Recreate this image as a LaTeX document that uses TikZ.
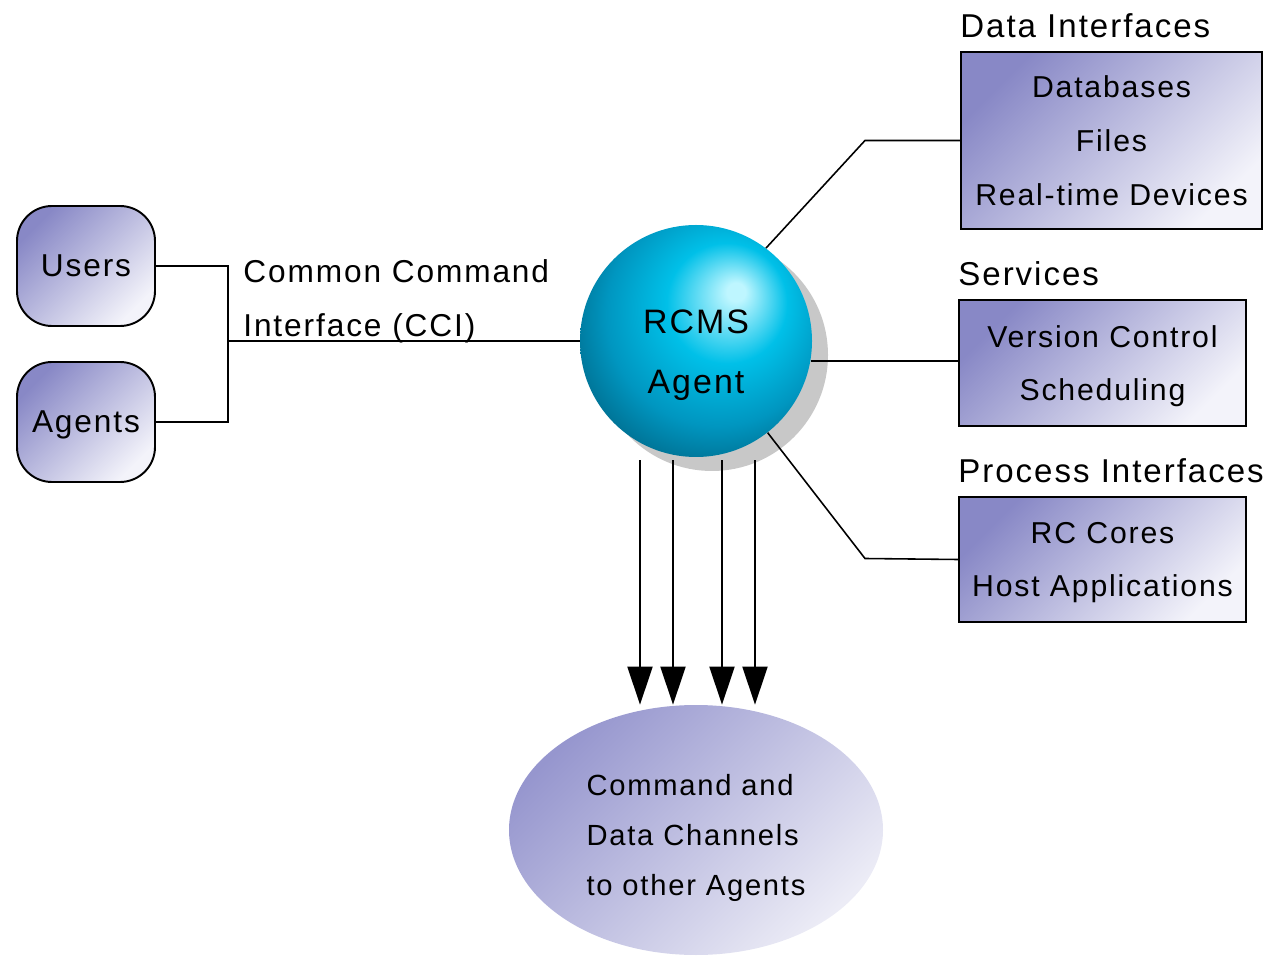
\documentclass[tikz,border=0pt]{standalone}
\usepackage{fontspec}
\setmainfont{Liberation Sans}[LetterSpace=6]
\usepackage{tikz}
\usetikzlibrary{arrows.meta,shapes,shadows,calc}
\definecolor{boxDark}{RGB}{136,136,198}
\definecolor{boxLight}{RGB}{243,243,250}
\definecolor{ovalDark}{RGB}{150,150,206}
\definecolor{ovalLight}{RGB}{236,236,246}
\definecolor{ballHi}{RGB}{190,246,255}
\definecolor{ballMid}{RGB}{0,192,232}
\definecolor{ballLow}{RGB}{0,150,192}
\definecolor{ballDark}{RGB}{0,84,112}
\definecolor{shadowGray}{RGB}{200,200,200}
\pgfdeclareradialshading{agentball}{\pgfpoint{9bp}{11bp}}{color(0bp)=(ballHi); color(2bp)=(ballHi); color(13bp)=(ballMid); color(24bp)=(ballLow); color(37bp)=(ballDark); color(50bp)=(ballDark)}
\tikzstyle{edge}=[line width=0.9pt]
\tikzstyle{edgeArrow}=[line width=1.1pt, -{Triangle[length=0.76cm, width=0.5cm]}]
\tikzstyle{shadeBox}=[rectangle, draw, line width=1.1pt, top color=boxDark, bottom color=boxLight, shading angle=45, align=center, inner sep=0pt, text depth=0pt, font=\fontsize{17.2}{30.6}\selectfont]
\tikzstyle{roundBox}=[shadeBox, rounded corners=0.7cm, minimum width=2.76cm, minimum height=2.4cm, font=\fontsize{18}{20}\selectfont]
\tikzstyle{groupTitle}=[anchor=south west, inner sep=0pt, yshift=0.26cm, font=\fontsize{18.8}{20}\selectfont]
\tikzstyle{agentBall}=[circle, minimum size=4.64cm, inner sep=0pt, shading=agentball, drop shadow={shadow xshift=0.32cm, shadow yshift=-0.28cm, fill=shadowGray, opacity=1}]
\tikzstyle{ballText}=[align=center, inner sep=0pt, yshift=-0.28cm, font=\fontsize{19.3}{34}\selectfont]
\tikzstyle{chanOval}=[ellipse, minimum width=7.48cm, minimum height=5cm, inner sep=0pt, top color=ovalDark, bottom color=ovalLight, shading angle=45]
\tikzstyle{chanText}=[align=left, inner sep=0pt, yshift=-0.16cm, font=\fontsize{16.6}{28.4}\selectfont]

\begin{document}
\begin{tikzpicture}
      \useasboundingbox (0,0) rectangle (25.54,-19.12);
      %%%%%%%%%%%% clients
      \node(users) [roundBox] at (1.72, -5.32){Users};
      \node(agents) [roundBox] at (1.72, -8.44){Agents};
      \node(cciText) [anchor=west, align=left, inner sep=0pt, font=\fontsize{18}{31}\selectfont] at (4.86, -6.03){Common Command\\Interface (CCI)};
      %%%%%%%%%%%% agent
      \node(agent) [agentBall, label={[ballText]center:RCMS\\Agent}] at (13.92, -6.82){};
      \node(chan) [chanOval, label={[chanText]center:Command and\\Data Channels\\to other Agents}] at (13.92, -16.60){};
      %%%%%%%%%%%% interfaces
      \node(data) [shadeBox, minimum width=6.02cm, minimum height=3.54cm, label={[groupTitle]north west:Data Interfaces}] at (22.23, -2.81){Databases\\Files\\Real-time Devices};
      \node(services) [shadeBox, minimum width=5.74cm, minimum height=2.52cm, label={[groupTitle]north west:Services}] at (22.05, -7.26){Version Control\\Scheduling};
      \node(process) [shadeBox, minimum width=5.74cm, minimum height=2.5cm, label={[groupTitle]north west:Process Interfaces}] at (22.05, -11.19){RC Cores\\Host Applications};
      %%%%%%%%%%%% connectors
      \coordinate (cci) at (4.56, -6.82);
      \draw[edge] (users.east) -| (cci);
      \draw[edge] (agents.east) -| (cci);
      \draw[edge] (cci) to (agent);
      \draw[edge] (agent.53) -- (17.30, -2.81) -- (data.west);
      \draw[edge] (agent.-10) -- (agent.-10 -| services.west);
      \draw[edge] (agent.-52) -- (17.30, -11.17) -- (process.west);
      \foreach \dx in {-1.12, -0.46, 0.52, 1.18}
        \draw[edgeArrow] ([xshift=\dx cm, yshift=-0.06cm]agent.south) -- ([xshift=\dx cm]chan.north);
    \end{tikzpicture}
\end{document}
